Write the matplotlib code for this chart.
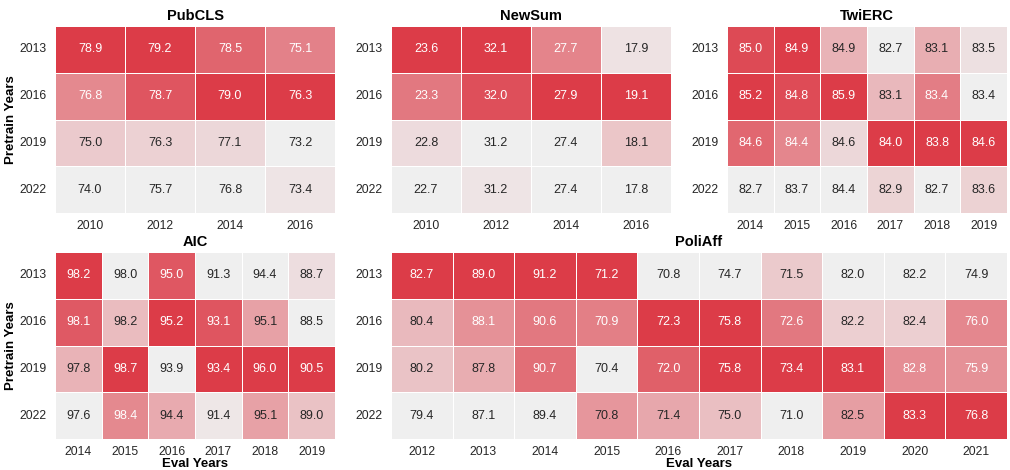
import matplotlib
matplotlib.use("Agg")
import matplotlib.pyplot as plt
import seaborn as sns
import pandas as pd
from matplotlib.colors import LinearSegmentedColormap

plt.rcParams['font.family'] = ['Liberation Sans', 'DejaVu Sans']

pretrain_years = [2013, 2016, 2019, 2022]

" *** PubCLS *** "
pubcls_eval = [2010, 2012, 2014, 2016]
pubcls = [[78.9, 79.2, 78.5, 75.1],
          [76.8, 78.7, 79.0, 76.3],
          [75.0, 76.3, 77.1, 73.2],
          [74.0, 75.7, 76.8, 73.4]]

" *** NewSum *** "
newsum_eval = [2010, 2012, 2014, 2016]
newsum = [[23.6, 32.1, 27.7, 17.9],
          [23.3, 32.0, 27.9, 19.1],
          [22.8, 31.18, 27.4, 18.1],
          [22.7, 31.24, 27.4, 17.8]]

" *** TwiERC *** "
twierc_eval = [2014, 2015, 2016, 2017, 2018, 2019]
twierc = [[85.0, 84.9, 84.9, 82.7, 83.1, 83.5],
          [85.2, 84.8, 85.9, 83.1, 83.4, 83.4],
          [84.6, 84.4, 84.6, 84.0, 83.8, 84.6],
          [82.7, 83.7, 84.4, 82.9, 82.7, 83.6]]

" *** AIC *** "
aic_eval = [2014, 2015, 2016, 2017, 2018, 2019]
aic = [[98.2, 98.0, 95.0, 91.3, 94.4, 88.7],
       [98.1, 98.2, 95.2, 93.1, 95.1, 88.5],
       [97.8, 98.7, 93.9, 93.4, 96.0, 90.5],
       [97.6, 98.4, 94.4, 91.4, 95.1, 89.0]]

" *** PoliAff *** "
poliaff_eval = [2012, 2013, 2014, 2015, 2016, 2017, 2018, 2019, 2020, 2021]
poliaff = [[82.7, 89.0, 91.2, 71.2, 70.8, 74.7, 71.5, 82.0, 82.2, 74.9],
           [80.4, 88.1, 90.6, 70.9, 72.3, 75.8, 72.6, 82.2, 82.4, 76.0],
           [80.2, 87.8, 90.7, 70.4, 72.0, 75.8, 73.4, 83.1, 82.8, 75.9],
           [79.4, 87.1, 89.4, 70.8, 71.4, 75.0, 71.0, 82.5, 83.3, 76.8]]

cmap = LinearSegmentedColormap.from_list("greyred", ["#efefef", "#dc3c48"])

fig = plt.figure(figsize=(10.1, 4.7), dpi=100)

W, H = 1010, 470


def box(x0, x1, y0, y1):
    return [x0 / W, 1 - y1 / H, (x1 - x0) / W, (y1 - y0) / H]


def draw(rect, title, values, eval_years, ylab=False, xlab=False):
    ax = fig.add_axes(rect)
    df = pd.DataFrame(values, index=pretrain_years, columns=eval_years)
    # colour each column by its own min-max range
    norm = (df - df.min()) / (df.max() - df.min())
    sns.heatmap(norm, annot=df, fmt=".1f", cmap=cmap, cbar=False, ax=ax,
                linewidths=0.5, linecolor="white",
                annot_kws={"size": 9})
    ax.set_title(title, fontsize=10.5, fontweight="bold", pad=4)
    ax.tick_params(length=0, labelsize=8.7, colors="#262626")
    ax.tick_params(axis="y", pad=6)
    ax.tick_params(axis="x", pad=5)
    ax.set_yticklabels(pretrain_years, rotation=0)
    ax.set_xticklabels(eval_years, rotation=0)
    if ylab:
        ax.set_ylabel("Pretrain Years", fontsize=9.5, fontweight="bold", labelpad=2)
    else:
        ax.set_ylabel("")
    if xlab:
        ax.set_xlabel("Eval Years", fontsize=9.5, fontweight="bold", labelpad=0)
    else:
        ax.set_xlabel("")
    return ax


draw(box(55, 335, 26, 213), "PubCLS", pubcls, pubcls_eval, ylab=True)
draw(box(391, 671, 26, 213), "NewSum", newsum, newsum_eval)
draw(box(727, 1007, 26, 213), "TwiERC", twierc, twierc_eval)
draw(box(55, 335, 252, 439), "AIC", aic, aic_eval, ylab=True, xlab=True)
draw(box(391, 1007, 252, 439), "PoliAff", poliaff, poliaff_eval, xlab=True)

plt.savefig("out.png", dpi=100)
